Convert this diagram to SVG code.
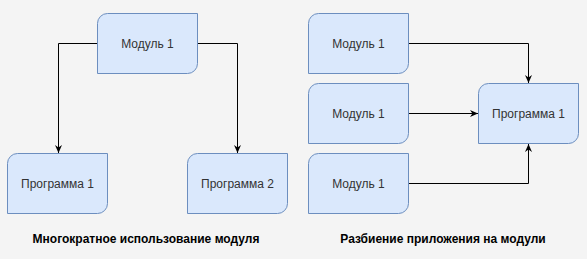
<svg xmlns="http://www.w3.org/2000/svg" width="587" height="259" viewBox="0 0 587 259">
<defs>
<style>
.box{fill:#dae8fc;stroke:#6c8ebf;stroke-width:1}
.lbl{font-family:"Liberation Sans",Arial,sans-serif;font-size:12px;fill:#333333;text-anchor:middle;dominant-baseline:central}
.cap{font-family:"Liberation Sans",Arial,sans-serif;font-size:12px;font-weight:bold;fill:#000000;text-anchor:middle;dominant-baseline:central}
.edge{fill:none;stroke:#000000;stroke-width:1}
</style>
<marker id="arr" viewBox="0 0 10 10" refX="10" refY="5" markerWidth="8" markerHeight="7" preserveAspectRatio="none" markerUnits="userSpaceOnUse" orient="auto">
<path d="M0,0 L10,5 L0,10 L3,5 Z" fill="#000000"/>
</marker>
</defs>
<rect width="587" height="259" fill="#f4f4f4"/>
<g id="connectors">
<path class="edge" d="M97.5,43.5 H58.5 V153" marker-end="url(#arr)"/>
<path class="edge" d="M197.5,43.5 H237.5 V153" marker-end="url(#arr)"/>
<path class="edge" d="M408.5,43.5 H528.5 V83" marker-end="url(#arr)"/>
<path class="edge" d="M408.5,113.5 H478" marker-end="url(#arr)"/>
<path class="edge" d="M408.5,183.5 H528.5 V144" marker-end="url(#arr)"/>
</g>
<g id="modul-left">
<path class="box" d="M107.5,13.5 H197.5 V63.5 A10,10 0 0 1 187.5,73.5 H97.5 V23.5 A10,10 0 0 1 107.5,13.5 Z"/>
<text class="lbl" x="147.5" y="43.5">Модуль 1</text>
</g>
<g id="programma-1-left">
<path class="box" d="M17.5,153.5 H107.5 V203.5 A10,10 0 0 1 97.5,213.5 H7.5 V163.5 A10,10 0 0 1 17.5,153.5 Z"/>
<text class="lbl" x="57.5" y="183.5">Программа 1</text>
</g>
<g id="programma-2-left">
<path class="box" d="M197.5,153.5 H287.5 V203.5 A10,10 0 0 1 277.5,213.5 H187.5 V163.5 A10,10 0 0 1 197.5,153.5 Z"/>
<text class="lbl" x="237.5" y="183.5">Программа 2</text>
</g>
<g id="modul-right-1">
<path class="box" d="M318.5,13.5 H408.5 V63.5 A10,10 0 0 1 398.5,73.5 H308.5 V23.5 A10,10 0 0 1 318.5,13.5 Z"/>
<text class="lbl" x="358.5" y="43.5">Модуль 1</text>
</g>
<g id="modul-right-2">
<path class="box" d="M318.5,83.5 H408.5 V133.5 A10,10 0 0 1 398.5,143.5 H308.5 V93.5 A10,10 0 0 1 318.5,83.5 Z"/>
<text class="lbl" x="358.5" y="113.5">Модуль 1</text>
</g>
<g id="modul-right-3">
<path class="box" d="M318.5,153.5 H408.5 V203.5 A10,10 0 0 1 398.5,213.5 H308.5 V163.5 A10,10 0 0 1 318.5,153.5 Z"/>
<text class="lbl" x="358.5" y="183.5">Модуль 1</text>
</g>
<g id="programma-right">
<path class="box" d="M488.5,83.5 H578.5 V133.5 A10,10 0 0 1 568.5,143.5 H478.5 V93.5 A10,10 0 0 1 488.5,83.5 Z"/>
<text class="lbl" x="528.5" y="113.5">Программа 1</text>
</g>
<g id="captions">
<text class="cap" x="146" y="239">Многократное использование модуля</text>
<text class="cap" x="443" y="239">Разбиение приложения на модули</text>
</g>
</svg>
